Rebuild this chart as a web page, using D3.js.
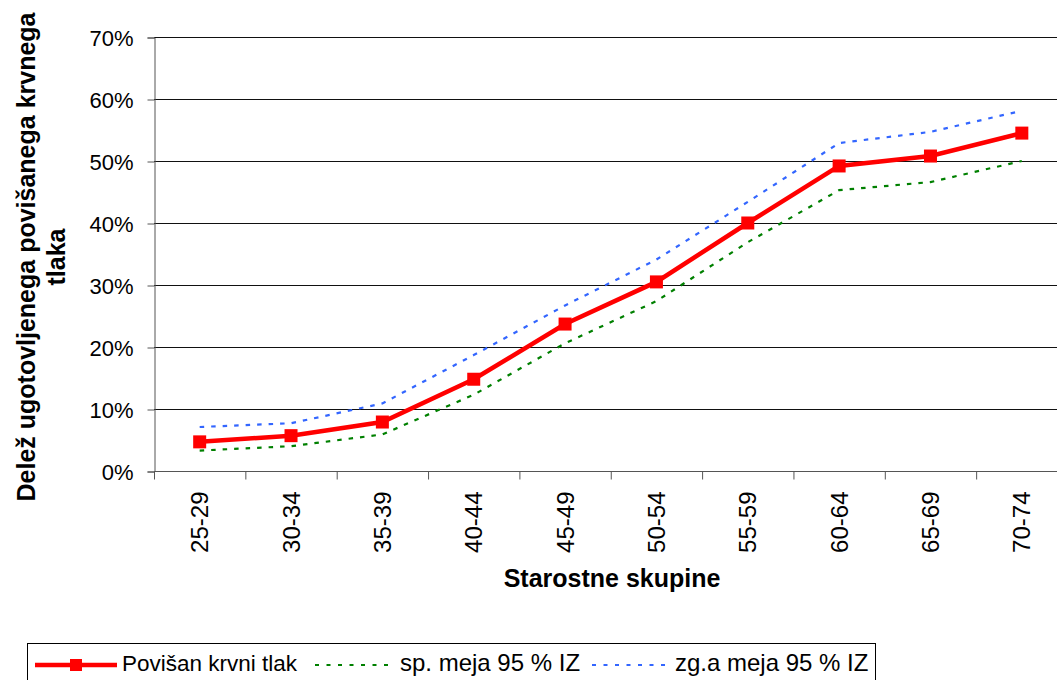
<!DOCTYPE html>
<html lang="en">
	<head>
		<meta charset="utf-8">
		<title>Delez povisanega krvnega tlaka po starostnih skupinah</title>
		<script type="text/javascript" src="https://cdn.jsdelivr.net/npm/d3@7"></script>
		<style type="text/css">
			body { margin: 0; background: #fff; }
			svg { display: block; font-family: "Liberation Sans", Arial, sans-serif; }
		</style>
	</head>
	<body>
		<script type="text/javascript">
			//Data
			var categories = ["25-29", "30-34", "35-39", "40-44", "45-49", "50-54", "55-59", "60-64", "65-69", "70-74"];
			var povisan = [4.7, 5.7, 7.9, 14.8, 23.7, 30.5, 40.0, 49.2, 50.8, 54.5];
			var spMeja  = [3.3, 4.0, 5.9, 12.3, 20.6, 27.4, 36.9, 45.3, 46.6, 50.0];
			var zgMeja  = [7.1, 7.7, 10.9, 18.7, 26.7, 34.1, 43.4, 52.9, 54.7, 58.1];
			var yTicks  = [0, 10, 20, 30, 40, 50, 60, 70];

			//Width and height
			var w = 1057;
			var h = 680;
			var plotLeft = 154, plotTop = 37, plotBottom = 471;
			var bandW = 91.35;

			var svg = d3.select("body")
						.append("svg")
						.attr("width", w)
						.attr("height", h);

			var x = d3.scaleBand()
					  .domain(categories)
					  .range([plotLeft, plotLeft + bandW * categories.length])
					  .padding(0);
			var y = d3.scaleLinear()
					  .domain([0, 70])
					  .range([plotBottom, plotTop]);

			//gridlines
			svg.selectAll("line.grid")
			   .data(yTicks.slice(1))
			   .enter()
			   .append("line")
			   .attr("class", "grid")
			   .attr("x1", plotLeft)
			   .attr("x2", w)
			   .attr("y1", function(d) { return Math.round(y(d)) + 0.5; })
			   .attr("y2", function(d) { return Math.round(y(d)) + 0.5; })
			   .attr("stroke", "#111")
			   .attr("stroke-width", 1);

			//y axis
			var yAxis = d3.axisLeft(y)
						  .tickValues(yTicks)
						  .tickSize(7)
						  .tickPadding(14)
						  .tickFormat(function(d) { return d + "%"; });
			var gy = svg.append("g")
						.attr("transform", "translate(" + (plotLeft + 0.5) + ",0.5)")
						.call(yAxis);
			gy.select(".domain").attr("stroke", "#555");
			gy.selectAll(".tick line").attr("stroke", "#555");
			gy.selectAll("text")
			  .attr("font-family", "Liberation Sans, Arial, sans-serif")
			  .attr("font-size", "22px")
			  .attr("fill", "#000")
			  .attr("dy", "0.35em");

			//x axis
			var xAxis = d3.axisBottom(x).tickSize(0).tickPadding(0);
			var gx = svg.append("g")
						.attr("transform", "translate(0," + (plotBottom + 0.5) + ")")
						.call(xAxis);
			gx.select(".domain").remove();
			gx.append("line")
			  .attr("x1", plotLeft).attr("x2", w)
			  .attr("y1", 0).attr("y2", 0)
			  .attr("stroke", "#555");
			gx.selectAll(".tick text")
			  .attr("font-family", "Liberation Sans, Arial, sans-serif")
			  .attr("font-size", "24px")
			  .attr("fill", "#000")
			  .attr("text-anchor", "end")
			  .attr("transform", "rotate(-90)")
			  .attr("x", -20)
			  .attr("y", 0)
			  .attr("dy", "0.36em");
			gx.selectAll("line.xt")
			  .data(categories)
			  .enter()
			  .append("line")
			  .attr("class", "xt")
			  .attr("x1", function(d) { return x(d) + 0.5; })
			  .attr("x2", function(d) { return x(d) + 0.5; })
			  .attr("y1", 0)
			  .attr("y2", 8)
			  .attr("stroke", "#555");

			//lines
			var line = d3.line()
						 .x(function(d, i) { return x(categories[i]) + x.bandwidth() / 2; })
						 .y(function(d) { return y(d); });

			svg.append("path")
			   .datum(spMeja)
			   .attr("d", line)
			   .attr("fill", "none")
			   .attr("stroke", "#008000")
			   .attr("stroke-width", 2.2)
			   .attr("stroke-dasharray", "4.5,7");

			svg.append("path")
			   .datum(zgMeja)
			   .attr("d", line)
			   .attr("fill", "none")
			   .attr("stroke", "#3366ff")
			   .attr("stroke-width", 2.2)
			   .attr("stroke-dasharray", "4.5,7");

			svg.append("path")
			   .datum(povisan)
			   .attr("d", line)
			   .attr("fill", "none")
			   .attr("stroke", "#ff0000")
			   .attr("stroke-width", 4.5);

			svg.selectAll("rect.pt")
			   .data(povisan)
			   .enter()
			   .append("rect")
			   .attr("class", "pt")
			   .attr("x", function(d, i) { return x(categories[i]) + x.bandwidth() / 2 - 6.5; })
			   .attr("y", function(d) { return y(d) - 6.5; })
			   .attr("width", 13)
			   .attr("height", 13)
			   .attr("fill", "#ff0000");

			//axis titles
			svg.append("text")
			   .attr("x", 612)
			   .attr("y", 587)
			   .attr("text-anchor", "middle")
			   .attr("font-size", "25px")
			   .attr("font-weight", "bold")
			   .text("Starostne skupine");

			var yt = svg.append("text")
						.attr("transform", "translate(35,257) rotate(-90)")
						.attr("text-anchor", "middle")
						.attr("font-size", "25px")
						.attr("font-weight", "bold");
			yt.append("tspan").attr("x", 0).attr("y", 0).text("Delež ugotovljenega povišanega krvnega");
			yt.append("tspan").attr("x", 0).attr("y", 30).text("tlaka");

			//legend
			var lg = svg.append("g");
			lg.append("rect")
			  .attr("x", 27.5).attr("y", 643.5)
			  .attr("width", 848).attr("height", 50)
			  .attr("fill", "#fff")
			  .attr("stroke", "#000");
			var legendItems = [
				{ name: "Povišan krvni tlak", color: "#ff0000", dash: null, width: 4.5, x: 35, len: 82, tx: 87, fs: 22.5 },
				{ name: "sp. meja 95 % IZ", color: "#008000", dash: "4,7.5", width: 2.2, x: 315, len: 76, tx: 85, fs: 24 },
				{ name: "zg.a meja 95 % IZ", color: "#3366ff", dash: "4,7.5", width: 2.2, x: 592, len: 76, tx: 83, fs: 24 }
			];
			var li = lg.selectAll("g.li")
					   .data(legendItems)
					   .enter()
					   .append("g")
					   .attr("class", "li")
					   .attr("transform", function(d) { return "translate(" + d.x + ",665)"; });
			li.append("line")
			  .attr("x1", 0).attr("x2", function(d) { return d.len; })
			  .attr("y1", 0).attr("y2", 0)
			  .attr("stroke", function(d) { return d.color; })
			  .attr("stroke-width", function(d) { return d.width; })
			  .attr("stroke-dasharray", function(d) { return d.dash; });
			li.filter(function(d) { return !d.dash; })
			  .append("rect")
			  .attr("x", 35).attr("y", -6)
			  .attr("width", 12).attr("height", 12)
			  .attr("fill", "#ff0000");
			li.append("text")
			  .attr("x", function(d) { return d.tx; })
			  .attr("y", -2)
			  .attr("dy", "0.35em")
			  .attr("font-size", function(d) { return d.fs + "px"; })
			  .text(function(d) { return d.name; });
		</script>
	</body>
</html>
